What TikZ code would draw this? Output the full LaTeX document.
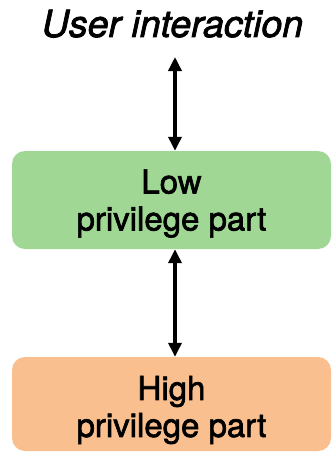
\documentclass[tikz,border=0pt]{standalone}
\usepackage{fontspec}
\setmainfont{TeX Gyre Heros}
\newfontfamily\medfont[FakeBold=2]{TeX Gyre Heros}
\usetikzlibrary{arrows.meta}
\definecolor{lowgreen}{RGB}{160,215,149}
\definecolor{highorange}{RGB}{249,191,143}
\tikzset{
  partbox/.style={rounded corners=13pt, minimum width=319pt, minimum height=98pt, inner sep=0pt, draw=none},
  boxtext/.style={align=center, inner sep=0pt, font=\medfont\fontsize{33}{37}\selectfont},
  arr/.style={line width=3.4pt, {Triangle[width=13pt,length=14pt]}-{Triangle[width=13pt,length=14pt]}},
}
\begin{document}
\begin{tikzpicture}[x=1pt,y=-1pt]
\useasboundingbox (0,0) rectangle (333,452);
\node[anchor=base, inner sep=0pt, font=\medfont\fontsize{37.5}{40}\selectfont\itshape] (user) at (172.5,37) {User interaction};
\node[partbox, fill=lowgreen] (low) at (171.5,200) {};
\node[boxtext] (lowt) at ([yshift=-3.5pt]low.center) {Low\\privilege part};
\node[partbox, fill=highorange, minimum height=94pt] (high) at (171.5,404) {};
\node[boxtext] (hight) at ([yshift=-6pt]high.center) {High\\privilege part};
\coordinate (ax) at (175,0);
\draw[arr] ([yshift=-20pt]user.base -| ax) -- (low.north -| ax);
\draw[arr] (low.south -| ax) -- (high.north -| ax);
\end{tikzpicture}
\end{document}
